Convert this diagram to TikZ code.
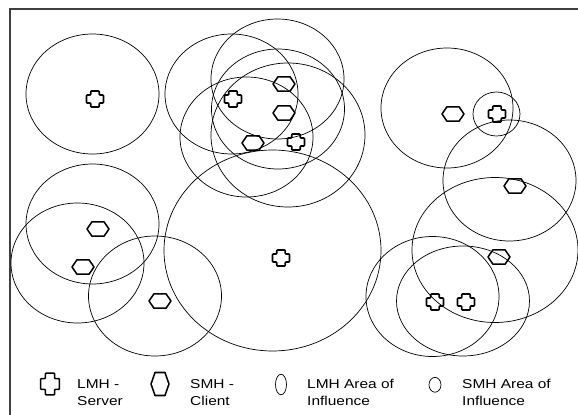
\documentclass[tikz,border=0pt]{standalone}
\usepackage{fontspec}
\newfontfamily\legendfont[FakeStretch=1.2]{Liberation Sans}
\usepackage{tikz}
\tikzset{
	area/.style={draw,line width=0.6pt},
	frame/.style={draw=black!75,line width=1pt},
	marker/.style={draw,line width=1.3pt,line join=round},
	legend text/.style={font=\legendfont\fontsize{11}{14.5}\selectfont,align=left,anchor=base west,inner sep=0pt},
	server/.pic={\path[marker,rounded corners=0.6pt] (-0.5,-1) -- (0.5,-1) -- (0.5,-0.5) -- (1,-0.5) -- (1,0.5) -- (0.5,0.5) -- (0.5,1) -- (-0.5,1) -- (-0.5,0.5) -- (-1,0.5) -- (-1,-0.5) -- (-0.5,-0.5) -- cycle;},
	client/.pic={\path[marker] (-1,0) -- (-0.55,-1) -- (0.55,-1) -- (1,0) -- (0.55,1) -- (-0.55,1) -- cycle;},
	lmh/.style={xscale=8.5,yscale=8},
	smh/.style={xscale=11,yscale=7.2}
}

\begin{document}
\begin{tikzpicture}[x=0.03cm,y=-0.03cm]
	\useasboundingbox (0,0) rectangle (578,415);
	\draw[frame] (578,9) -- (10,9) -- (10,415);
	% areas of influence
	\draw[area] (92.5,94) ellipse [x radius=66.5, y radius=60];
	\draw[area] (231.5,94) ellipse [x radius=66.5, y radius=60];
	\draw[area] (277.5,79) ellipse [x radius=66.5, y radius=60];
	\draw[area] (278,109) ellipse [x radius=66.5, y radius=60];
	\draw[area] (246.5,137) ellipse [x radius=66.5, y radius=60];
	\draw[area] (288,135) ellipse [x radius=77, y radius=72];
	\draw[area] (272.5,250.5) ellipse [x radius=108.5, y radius=100.5];
	\draw[area] (92.5,224) ellipse [x radius=66.5, y radius=60];
	\draw[area] (77.5,263) ellipse [x radius=66.5, y radius=60];
	\draw[area] (155,296) ellipse [x radius=66.5, y radius=60];
	\draw[area] (447,108) ellipse [x radius=66, y radius=60];
	\draw[area] (496.5,114) ellipse [x radius=23.5, y radius=22];
	\draw[area] (509.5,180.5) ellipse [x radius=66.5, y radius=60.5];
	\draw[area] (495,250) ellipse [x radius=83, y radius=72.5];
	\draw[area] (432.5,296.5) ellipse [x radius=66.5, y radius=60];
	\draw[area] (463,301) ellipse [x radius=66.5, y radius=55];
	% servers
	\pic[shift={(95,99)},lmh] {server};
	\pic[shift={(233,99)},lmh] {server};
	\pic[shift={(296,142)},lmh] {server};
	\pic[shift={(281,258)},lmh] {server};
	\pic[shift={(497,114)},lmh] {server};
	\pic[shift={(435,302)},lmh] {server};
	\pic[shift={(466,302)},lmh] {server};
	% clients
	\pic[shift={(284,84)},smh] {client};
	\pic[shift={(284,113)},smh] {client};
	\pic[shift={(253,143)},smh] {client};
	\pic[shift={(98,229)},smh] {client};
	\pic[shift={(83,267)},smh] {client};
	\pic[shift={(160,301)},smh] {client};
	\pic[shift={(453,114)},smh] {client};
	\pic[shift={(515,186)},smh] {client};
	\pic[shift={(499,257)},smh] {client};
	% legend
	\pic[shift={(50,384)},xscale=9.3,yscale=10.8] {server};
	\pic[shift={(160,384)},xscale=9,yscale=11.5] {client};
	\draw[area] (281,384.5) ellipse [x radius=5.5, y radius=10.3];
	\draw[area] (435,384.8) ellipse [x radius=6, y radius=7.4];
	\node[legend text] (server key) at (77,405) {LMH -\\Server};
	\node[legend text] (client key) at (190,405) {SMH -\\Client};
	\node[legend text] (lmh key) at (307,405) {LMH Area of\\Influence};
	\node[legend text] (smh key) at (462,405) {SMH Area of\\Influence};
\end{tikzpicture}
\end{document}
